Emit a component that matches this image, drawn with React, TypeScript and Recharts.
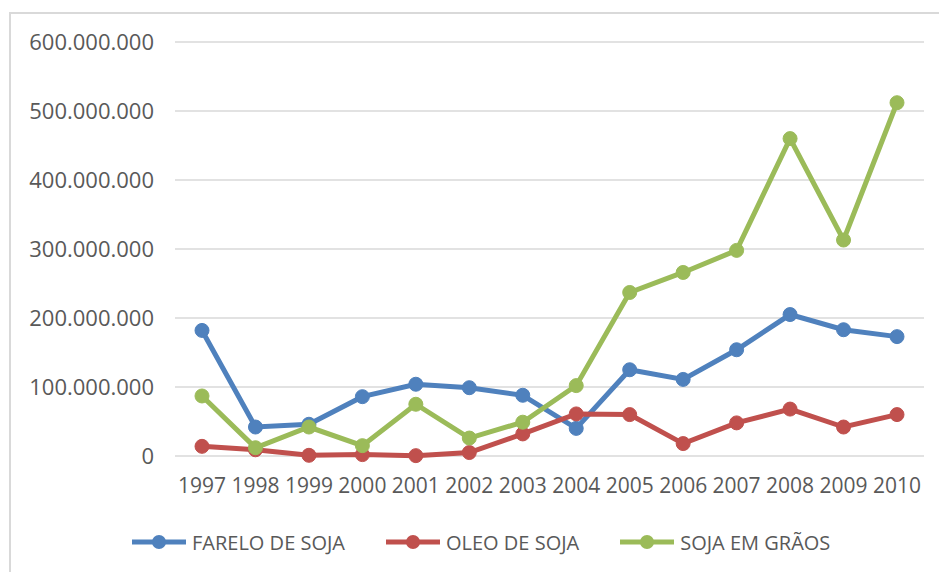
import React from 'react';
import { LineChart, Line, XAxis, YAxis, CartesianGrid, Legend } from 'recharts';

const years = ['1997', '1998', '1999', '2000', '2001', '2002', '2003', '2004', '2005', '2006', '2007', '2008', '2009', '2010'];
const farelo = [182e6, 42e6, 46e6, 86e6, 104e6, 99e6, 88e6, 40e6, 125e6, 111e6, 154e6, 205e6, 183e6, 173e6];
const oleo = [14e6, 9e6, 1e6, 2e6, 0.5e6, 5e6, 32e6, 61e6, 60e6, 18e6, 48e6, 68e6, 42e6, 60e6];
const graos = [87e6, 12e6, 42e6, 15e6, 75e6, 26e6, 49e6, 102e6, 237e6, 266e6, 298e6, 460e6, 313e6, 512e6];
const yTicks = [0, 100e6, 200e6, 300e6, 400e6, 500e6, 600e6];

const series = [
  { key: 'farelo', name: 'FARELO DE SOJA', color: '#4F81BD' },
  { key: 'oleo', name: 'OLEO DE SOJA', color: '#C0504D' },
  { key: 'graos', name: 'SOJA EM GRÃOS', color: '#9BBB59' },
];

const data = years.map((year, i) => ({
  year,
  farelo: farelo[i],
  oleo: oleo[i],
  graos: graos[i],
}));

const fmt = (v: number) => (v === 0 ? '0' : String(Math.round(v)).replace(/\B(?=(\d{3})+(?!\d))/g, '.'));

const FONT = '"Open Sans", sans-serif';
const TEXT = '#595959';

function LegendBox() {
  return (
    <div style={{ display: 'flex', height: 34, alignItems: 'center', paddingLeft: 131, gap: 40, fontFamily: FONT, fontSize: 20, color: TEXT }}>
      {series.map((s) => (
        <div key={s.key} style={{ display: 'flex', alignItems: 'center' }}>
          <svg width={56} height={20} style={{ marginRight: 5 }}>
            <line x1={1} y1={10} x2={55} y2={10} stroke={s.color} strokeWidth={5} />
            <circle cx={28} cy={10} r={7} fill={s.color} />
          </svg>
          <span>{s.name}</span>
        </div>
      ))}
    </div>
  );
}

export default function App() {
  return (
    <div style={{ position: 'absolute', left: 0, top: 0, width: 939, height: 572, background: '#fff', overflow: 'hidden' }}>
      <div style={{ position: 'absolute', left: 9, top: 12, width: 960, height: 600, border: '2px solid #d9d9d9' }} />
      <LineChart width={939} height={572} data={data} margin={{ top: 42, right: 15, bottom: 13, left: 0 }}>
        <CartesianGrid vertical={false} stroke="#d9d9d9" strokeWidth={1.5} />
        <XAxis
          dataKey="year"
          axisLine={false}
          tickLine={false}
          height={69}
          tickSize={6}
          tickMargin={16}
          interval={0}
          padding={{ left: 27, right: 27 }}
          tick={{ fill: TEXT, fontSize: 21, fontFamily: FONT }}
        />
        <YAxis
          width={175}
          domain={[0, 600e6]}
          ticks={yTicks}
          axisLine={false}
          tickLine={false}
          tickSize={6}
          tickMargin={15}
          tickFormatter={fmt}
          tick={{ fill: TEXT, fontSize: 22, fontFamily: FONT }}
        />
        <Legend verticalAlign="bottom" content={() => <LegendBox />} />
        {series.map((s) => (
          <Line
            key={s.key}
            type="linear"
            dataKey={s.key}
            name={s.name}
            stroke={s.color}
            strokeWidth={5}
            dot={{ r: 7, fill: s.color, stroke: s.color, strokeWidth: 1 }}
            activeDot={false}
            isAnimationActive={false}
          />
        ))}
      </LineChart>
    </div>
  );
}
